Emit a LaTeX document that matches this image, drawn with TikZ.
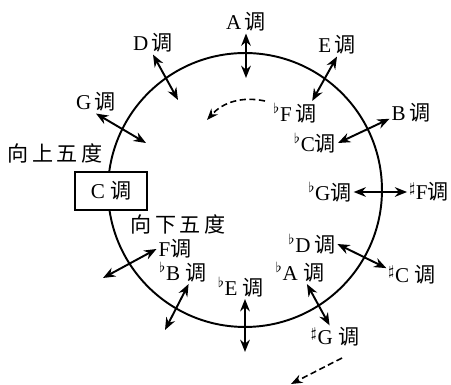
\documentclass[tikz,border=0pt]{standalone}
\usepackage{fontspec}
\setmainfont{Liberation Serif}
\newfontfamily\cjk{Noto Sans CJK SC}
\usetikzlibrary{arrows.meta}
\newcommand{\diao}{{\cjk 调}}

\begin{document}
\begin{tikzpicture}[
    x=0.02cm, y=-0.02cm,
    key/.style={inner sep=1pt, font=\fontsize{12}{13}\selectfont},
    cbox/.style={rectangle, draw, line width=1.1pt, fill=white, minimum width=41pt, minimum height=21.5pt, font=\fontsize{12}{13}\selectfont},
    arr/.style={{Stealth[length=7pt, width=5.5pt]}-{Stealth[length=7pt, width=5.5pt]}, line width=1.1pt},
    rot/.style={-{Stealth[length=6.5pt, width=5pt]}, dash pattern=on 3.5pt off 2pt, line width=0.9pt},
]
    \useasboundingbox (0,0) rectangle (451,385);

    % circle of fifths
    \coordinate (o) at (245,190);
    \draw[line width=1.1pt] (o) circle[radius=2.74cm];

    % C key and the two directions
    \node[cbox] (c) at (111,191) {C\ \diao};
    \node[key] (up) at (55,153) {\cjk 向\,上\,五\,度};
    \node[key] (down) at (178,224) {\cjk 向\,下\,五\,度};

    % outer ring: upward fifths
    \node[key] (lG) at (96,102) {G\,\diao};
    \node[key] (lD) at (153,43) {D\,\diao};
    \node[key] (lA) at (246,22) {A\,\diao};
    \node[key] (lE) at (337,45) {E\,\diao};
    \node[key] (lB) at (411,113) {B\,\diao};
    \node[key] (lsF) at (429,192) {$^\sharp$F\diao};
    \node[key] (lsC) at (412,275) {$^\sharp$C\ \diao};
    \node[key] (lsG) at (335,337) {$^\sharp$G\ \diao};

    % inner ring: downward fifths
    \node[key] (lF) at (175,249) {F\diao};
    \node[key] (lbB) at (183,272) {$^\flat$B\ \diao};
    \node[key] (lbE) at (241,287) {$^\flat$E\ \diao};
    \node[key] (lbA) at (300,272) {$^\flat$A\ \diao};
    \node[key] (lbD) at (312,244) {$^\flat$D\,\diao};
    \node[key] (lbG) at (330,192) {$^\flat$G\diao};
    \node[key] (lbC) at (315,143) {$^\flat$C\diao};
    \node[key] (lbF) at (295,113) {$^\flat$F\,\diao};

    % free arrow ends
    \coordinate (aG) at (146,143);
    \coordinate (aD) at (178,100);
    \coordinate (aA) at (246,78);
    \coordinate (aF) at (103,278);
    \coordinate (abB) at (165,330);
    \coordinate (abE) at (245,352);

    % arrows across the circle
    \draw[arr] (lG.south) -- (aG);
    \draw[arr] (lD.south) -- (aD);
    \draw[arr] (lA.south -| aA) -- (aA);
    \draw[arr] (lE.south) -- (lbF.35);
    \draw[arr] (lB.195) -- (lbC.east);
    \draw[arr] (lbG.east) -- (lsF.west);
    \draw[arr] (lbD.east) -- (lsC.165);
    \draw[arr] (lbA.-60) -- (lsG.115);
    \draw[arr] (lbE.south -| abE) -- (abE);
    \draw[arr] (lbB.-65) -- (abB);
    \draw[arr] (lF.west) -- (aF);

    % turning direction
    \coordinate (r1) at (265,101);
    \coordinate (r2) at (207,120);
    \coordinate (r3) at (342,358);
    \coordinate (r4) at (291,384);
    \draw[rot] (r1) to[bend right=30] (r2);
    \draw[rot] (r3) -- (r4);
\end{tikzpicture}
\end{document}
